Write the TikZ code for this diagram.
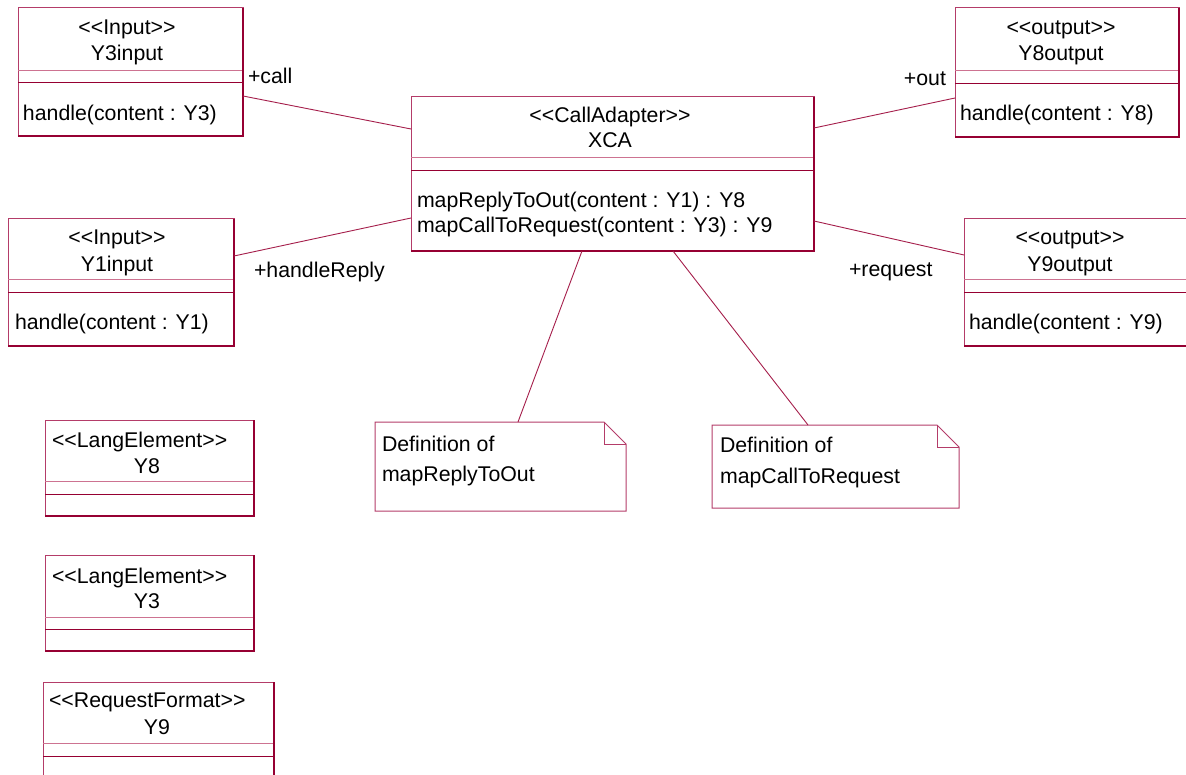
\documentclass[tikz,border=0pt]{standalone}
\usepackage{fontspec}
\setmainfont{Liberation Sans}[Ligatures=TeXOff]
\usetikzlibrary{calc}
\definecolor{edgec}{RGB}{180,60,105}
\definecolor{darkc}{RGB}{150,0,50}
\definecolor{lightc}{RGB}{205,115,145}
\definecolor{linec}{RGB}{165,30,75}
\tikzset{
  every node/.style={font=\fontsize{21.3}{25}\selectfont, inner sep=0pt, outer sep=0pt},
  classbox/.style={draw=edgec, line width=1pt, fill=white, rectangle, anchor=north west},
  notebox/.style={rectangle, anchor=north west},
  notedraw/.style={draw=edgec, line width=1pt, fill=white},
  assoc/.style={draw=linec, line width=0.9pt},
  lbl/.style={anchor=base west},
  ctr/.style={anchor=base},
}
\newcommand{\umlbox}[7]{%
  \node[classbox, minimum width={(#4-#2)*1pt}, minimum height={(#5-#3)*1pt}] (#1) at (#2,#3) {};
  \draw[lightc, line width=1pt] (#2,#6) -- (#4,#6);
  \draw[darkc, line width=1pt] (#2,#7) -- (#4,#7);
  \draw[darkc, line width=1.6pt] (#2,#5) -- (#4,#5) -- (#4,#3);
}
\newcommand{\umlnote}[5]{%
  \node[notebox, minimum width={(#4-#2)*1pt}, minimum height={(#5-#3)*1pt}] (#1) at (#2,#3) {};
  \draw[notedraw] (#1.north west) -- ($(#1.north east)+(-22,0)$) -- ($(#1.north east)+(0,22)$) -- (#1.south east) -- (#1.south west) -- cycle;
  \draw[edgec, line width=1pt] ($(#1.north east)+(-22,0)$) -- ($(#1.north east)+(-22,22)$) -- ($(#1.north east)+(0,22)$);
}
\begin{document}
\begin{tikzpicture}[x=1pt,y=-1pt]
\useasboundingbox (0,0) rectangle (1186,775);
\clip (0,0) rectangle (1186,775);
\fill[white] (0,0) rectangle (1186,775);

% class boxes
\umlbox{y3in}{18}{8}{243}{136}{71}{83}
\umlbox{y1in}{8}{219}{234}{346}{280}{293}
\umlbox{xca}{411}{97}{814}{251}{158}{171}
\umlbox{y8out}{955}{8}{1179}{137}{71}{84}
\umlbox{y9out}{964}{219}{1192}{346}{280}{293}
\umlbox{ly8}{45}{420}{254}{516}{481}{494}
\umlbox{ly3}{45}{555}{254}{651}{617}{629}
\umlbox{ly9}{43}{682}{274}{795}{743}{756}

% notes
\umlnote{n1}{375}{422}{626}{511}
\umlnote{n2}{712}{425}{959}{508}

% connectors
\draw[assoc] ($(y3in.north east)+(0,88)$) -- ($(xca.north west)+(0,32)$);
\draw[assoc] ($(y1in.north east)+(0,37)$) -- ($(xca.north west)+(0,121)$);
\draw[assoc] ($(xca.north east)+(0,31)$) -- ($(y8out.north west)+(0,90)$);
\draw[assoc] ($(xca.north east)+(0,124)$) -- ($(y9out.north west)+(0,36)$);
\draw[assoc] ($(xca.south west)+(171,0)$) -- ($(n1.north west)+(143,0)$);
\draw[assoc] ($(xca.south west)+(262,0)$) -- ($(n2.north west)+(96,0)$);

% texts
\node[ctr] (t1) at (127,35) {<<Input>>};
\node[ctr] (t2) at (127,61) {Y3input};
\node[lbl] (t3) at (23,121) {handle(content : Y3)};

\node[ctr] (t4) at (117,245) {<<Input>>};
\node[ctr] (t5) at (117,272) {Y1input};
\node[lbl] (t6) at (15,330) {handle(content : Y1)};

\node[ctr] (t7) at (610,123) {<<CallAdapter>>};
\node[ctr] (t8) at (610,148) {XCA};
\node[lbl] (t9) at (417,208) {mapReplyToOut(content : Y1) : Y8};
\node[lbl] (t10) at (417,233) {mapCallToRequest(content : Y3) : Y9};

\node[ctr] (t11) at (1061,35) {<<output>>};
\node[ctr] (t12) at (1061,61) {Y8output};
\node[lbl] (t13) at (960,121) {handle(content : Y8)};

\node[ctr] (t14) at (1070,245) {<<output>>};
\node[ctr] (t15) at (1070,272) {Y9output};
\node[lbl] (t16) at (969,330) {handle(content : Y9)};

\node[lbl] (t17) at (52,447) {<<LangElement>>};
\node[ctr] (t18) at (147,473) {Y8};
\node[lbl] (t19) at (52,583) {<<LangElement>>};
\node[ctr] (t20) at (147,608) {Y3};
\node[lbl] (t21) at (49,707) {<<RequestFormat>>};
\node[ctr] (t22) at (157,734) {Y9};

\node[lbl] (l1) at (248,84) {+call};
\node[lbl] (l2) at (254,278) {+handleReply};
\node[anchor=base east] (l3) at (946,86) {+out};
\node[lbl] (l4) at (849,277) {+request};

\node[lbl] (n1a) at (382,451) {Definition of};
\node[lbl] (n1b) at (382,481) {mapReplyToOut};
\node[lbl] (n2a) at (720,452) {Definition of};
\node[lbl] (n2b) at (720,483) {mapCallToRequest};
\end{tikzpicture}
\end{document}
